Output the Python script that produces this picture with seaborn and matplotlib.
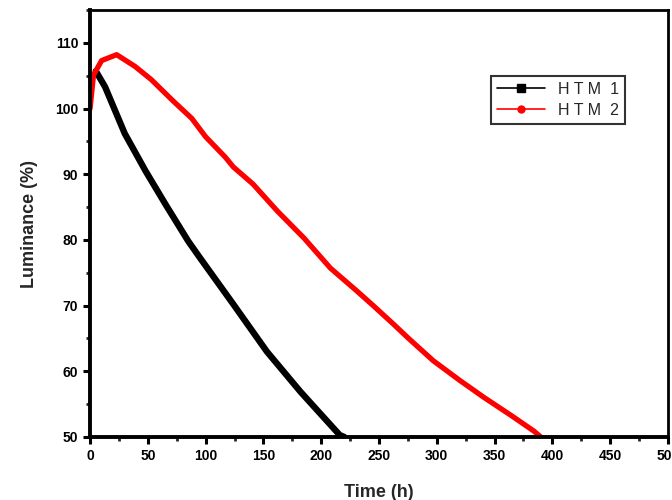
import pandas as pd
import seaborn as sns
import matplotlib.pyplot as plt
from matplotlib.lines import Line2D
from matplotlib.ticker import MultipleLocator

sns.set_theme(style="ticks")
plt.rcParams['font.family'] = ['Liberation Sans', 'DejaVu Sans']

# values
htm1_time = [5, 13, 30, 48, 65, 85, 95, 124, 153, 182, 216, 220]
htm1_lum = [105.7, 103.3, 96.2, 90.5, 85.5, 79.8, 77.3, 70.2, 63.0, 56.9, 50.3, 50.0]

htm2_time = [0, 3, 10, 23, 39, 53, 71, 88, 100, 117, 124, 141, 162, 185,
             208, 231, 245, 263, 275, 297, 320, 341, 365, 384, 390]
htm2_lum = [100.0, 105.1, 107.3, 108.2, 106.4, 104.4, 101.3, 98.5, 95.7, 92.6,
            91.1, 88.5, 84.4, 80.3, 75.7, 72.2, 70.0, 67.1, 65.1, 61.6, 58.6,
            56.0, 53.2, 50.9, 50.0]

df = pd.concat([
    pd.DataFrame({'Time': htm1_time, 'Luminance': htm1_lum, 'Device': 'HTM 1'}),
    pd.DataFrame({'Time': htm2_time, 'Luminance': htm2_lum, 'Device': 'HTM 2'}),
])

fig, ax = plt.subplots(figsize=(6.72, 5), dpi=100)
fig.subplots_adjust(left=0.134, right=0.994, top=0.98, bottom=0.126)

sns.lineplot(data=df[df['Device'] == 'HTM 1'], x='Time', y='Luminance',
             color='black', linewidth=4.6, ax=ax, legend=False)
sns.lineplot(data=df[df['Device'] == 'HTM 2'], x='Time', y='Luminance',
             color='#ff0000', linewidth=3.8, ax=ax, legend=False)

ax.set_xlim(0, 500)
ax.set_ylim(50, 115)
ax.xaxis.set_major_locator(MultipleLocator(50))
ax.xaxis.set_minor_locator(MultipleLocator(25))
ax.yaxis.set_major_locator(MultipleLocator(10))
ax.yaxis.set_minor_locator(MultipleLocator(5))
ax.tick_params(which='major', direction='out', length=5, width=2.2,
               labelsize=10, colors='black')
ax.tick_params(which='minor', direction='out', length=3, width=2)
for lab in ax.get_xticklabels() + ax.get_yticklabels():
    lab.set_fontweight('bold')

ax.spines['left'].set_linewidth(2.8)
ax.spines['bottom'].set_linewidth(2.8)
ax.spines['top'].set_linewidth(2)
ax.spines['right'].set_linewidth(2)
for s in ax.spines.values():
    s.set_color('black')

ax.set_xlabel("Time (h)", fontsize=13, fontweight='bold', labelpad=15)
ax.set_ylabel("Luminance (%)", fontsize=13, fontweight='bold', labelpad=12)

handles = [
    Line2D([0], [0], color='black', lw=1.2, marker='s', markersize=6),
    Line2D([0], [0], color='#ff0000', lw=1.2, marker='o', markersize=5),
]
leg = ax.legend(handles, ['H T M  1', 'H T M  2'], loc='upper left',
                bbox_to_anchor=(0.68, 0.865), fontsize=11.5, frameon=True,
                fancybox=False, handlelength=3, borderpad=0.4,
                labelspacing=0.35)
leg.get_frame().set_edgecolor('black')
leg.get_frame().set_linewidth(1.5)

fig.savefig("out.png", dpi=100)
